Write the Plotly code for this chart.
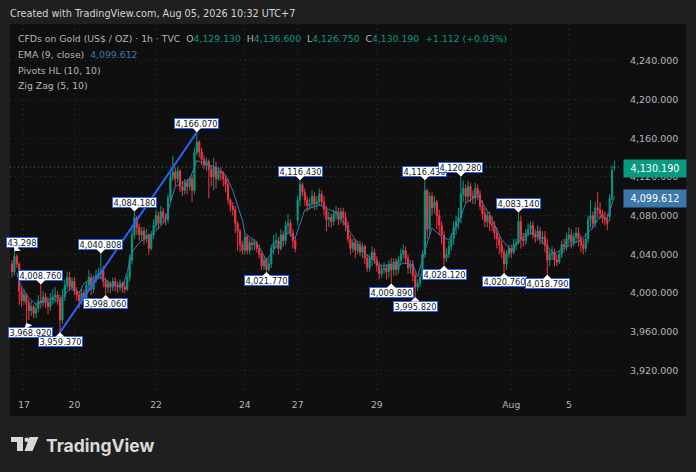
import plotly.graph_objects as go

opens = [
    4030, 4022, 4038, 4030, 4002, 3992, 3998, 3990, 3982, 3986,
    3979, 3984, 3992, 3990, 3996, 3990, 3986, 3992, 3996, 3998,
    3994, 3972, 3996, 4008, 4016, 4006, 4012, 4002, 3998, 3992,
    4000, 3994, 4008, 4016, 4004, 4014, 4018, 4020, 4024, 4012,
    4006, 4010, 4006, 4012, 4008, 4006, 4010, 4006, 4004, 4016,
    4034, 4060, 4078, 4068, 4060, 4064, 4056, 4060, 4046, 4060,
    4070, 4080, 4072, 4084, 4078, 4076, 4098, 4120, 4125, 4118,
    4126, 4110, 4106, 4114, 4110, 4118, 4106, 4145, 4156, 4146,
    4138, 4132, 4136, 4128, 4120, 4130, 4118, 4126, 4124, 4118,
    4112, 4096, 4090, 4086, 4072, 4064, 4050, 4044, 4058, 4044,
    4052, 4050, 4052, 4046, 4040, 4028, 4034, 4024, 4030, 4046,
    4052, 4054, 4046, 4060, 4054, 4070, 4072, 4062, 4054, 4075,
    4096, 4112, 4104, 4096, 4090, 4092, 4100, 4092, 4094, 4102,
    4094, 4086, 4076, 4078, 4074, 4082, 4084, 4076, 4084, 4078,
    4070, 4056, 4046, 4052, 4044, 4050, 4042, 4048, 4036, 4026,
    4036, 4042, 4034, 4028, 4020, 4024, 4026, 4022, 4030, 4024,
    4032, 4024, 4034, 4040, 4044, 4036, 4026, 4030, 4018, 4006,
    4010, 4016, 4040, 4106, 4066, 4100, 4088, 4094, 4080, 4070,
    4060, 4036, 4040, 4048, 4056, 4068, 4074, 4078, 4102, 4108,
    4100, 4110, 4100, 4098, 4108, 4102, 4090, 4082, 4074, 4080,
    4072, 4070, 4062, 4056, 4050, 4042, 4030, 4040, 4046, 4042,
    4050, 4052, 4074, 4056, 4054, 4062, 4066, 4070, 4060, 4058,
    4064, 4056, 4058, 4050, 4034, 4040, 4042, 4034, 4032, 4040,
    4050, 4048, 4056, 4060, 4052, 4058, 4062, 4056, 4050, 4046,
    4056, 4076, 4080, 4072, 4088, 4086, 4082, 4078, 4076, 4079,
    4098, 4129.13,
]
highs = [
    4034, 4043.298, 4040, 4032, 4006, 4004, 4000, 3994, 3992, 3988,
    3990, 3998, 4008.76, 4002, 4000, 3996, 4000, 4004, 4006, 4002,
    3998, 4004, 4014, 4022, 4022, 4016, 4016, 4006, 4002, 4004,
    4004, 4012, 4024, 4020, 4018, 4024, 4026, 4040.808, 4028, 4016,
    4014, 4012, 4016, 4016, 4012, 4014, 4012, 4012, 4020, 4040,
    4066, 4084.18, 4080, 4072, 4068, 4068, 4066, 4062, 4064, 4076,
    4086, 4084, 4090, 4088, 4082, 4102, 4124, 4142, 4130, 4130,
    4128, 4116, 4118, 4118, 4120, 4122, 4150, 4166.07, 4158, 4150,
    4142, 4140, 4138, 4132, 4140, 4136, 4130, 4130, 4126, 4122,
    4118, 4098, 4094, 4090, 4074, 4066, 4054, 4062, 4060, 4056,
    4056, 4056, 4054, 4050, 4042, 4038, 4036, 4036, 4050, 4060,
    4062, 4058, 4066, 4064, 4074, 4082, 4076, 4066, 4058, 4100,
    4116.43, 4114, 4108, 4100, 4098, 4106, 4104, 4100, 4108, 4106,
    4100, 4090, 4084, 4082, 4086, 4090, 4088, 4088, 4088, 4084,
    4074, 4060, 4056, 4056, 4054, 4054, 4052, 4050, 4040, 4040,
    4048, 4046, 4038, 4032, 4028, 4032, 4030, 4034, 4036, 4036,
    4036, 4038, 4046, 4050, 4048, 4040, 4034, 4034, 4022, 4014,
    4020, 4044, 4116.43, 4108, 4104, 4104, 4100, 4096, 4086, 4074,
    4064, 4046, 4054, 4062, 4074, 4080, 4088, 4120.28, 4116, 4112,
    4116, 4114, 4106, 4114, 4112, 4106, 4096, 4088, 4084, 4084,
    4080, 4074, 4068, 4060, 4054, 4046, 4044, 4050, 4050, 4056,
    4056, 4083.14, 4080, 4062, 4066, 4072, 4074, 4074, 4066, 4070,
    4068, 4064, 4064, 4056, 4044, 4048, 4046, 4040, 4044, 4054,
    4056, 4062, 4068, 4066, 4062, 4068, 4068, 4060, 4056, 4062,
    4080, 4096, 4084, 4094, 4104, 4094, 4086, 4084, 4082, 4102,
    4132, 4136.6,
]
lows = [
    4016, 4018, 4026, 3988, 3986, 3988, 3968.92, 3972, 3976, 3974,
    3974, 3980, 3984, 3986, 3984, 3978, 3982, 3988, 3990, 3988,
    3959.37, 3968, 3992, 4004, 4002, 4002, 3998, 3992, 3984, 3988,
    3986, 3990, 4004, 3998, 4000, 4010, 4014, 4014, 4006, 3998.06,
    4000, 4000, 4002, 4002, 4000, 4002, 4000, 4000, 4002, 4012,
    4030, 4056, 4060, 4054, 4054, 4050, 4052, 4040, 4044, 4056,
    4066, 4066, 4070, 4072, 4070, 4072, 4094, 4116, 4110, 4114,
    4104, 4100, 4102, 4102, 4106, 4094, 4102, 4142, 4140, 4132,
    4128, 4126, 4098, 4110, 4106, 4108, 4116, 4116, 4110, 4104,
    4092, 4084, 4080, 4062, 4044, 4042, 4040, 4040, 4040, 4040,
    4044, 4044, 4042, 4036, 4024, 4024, 4021.77, 4022, 4026, 4040,
    4046, 4040, 4044, 4048, 4050, 4062, 4058, 4046, 4042, 4070,
    4090, 4100, 4090, 4084, 4086, 4088, 4086, 4086, 4090, 4090,
    4080, 4064, 4068, 4068, 4070, 4076, 4070, 4072, 4070, 4064,
    4052, 4040, 4042, 4036, 4040, 4038, 4036, 4030, 4022, 4022,
    4028, 4030, 4022, 4014, 4016, 4020, 4014, 4016, 4009.89, 4018,
    4018, 4020, 4030, 4036, 4030, 4020, 4020, 4012, 3995.82, 4002,
    4006, 4014, 4036, 4056, 4060, 4080, 4082, 4066, 4060, 4050,
    4028.12, 4032, 4036, 4044, 4050, 4060, 4066, 4072, 4094, 4092,
    4094, 4094, 4092, 4092, 4096, 4086, 4076, 4068, 4068, 4064,
    4064, 4056, 4046, 4040, 4036, 4020.76, 4024, 4036, 4036, 4040,
    4044, 4050, 4046, 4048, 4050, 4058, 4060, 4056, 4052, 4054,
    4050, 4050, 4042, 4018.79, 4028, 4034, 4028, 4028, 4030, 4036,
    4042, 4044, 4050, 4046, 4048, 4052, 4048, 4042, 4040, 4042,
    4052, 4068, 4066, 4068, 4078, 4076, 4072, 4070, 4065, 4074,
    4096, 4126.75,
]
closes = [
    4022, 4038, 4030, 4002, 3992, 3998, 3990, 3982, 3986, 3979,
    3984, 3992, 3990, 3996, 3990, 3986, 3992, 3996, 3998, 3994,
    3972, 3996, 4008, 4016, 4006, 4012, 4002, 3998, 3992, 4000,
    3994, 4008, 4016, 4004, 4014, 4018, 4020, 4024, 4012, 4006,
    4010, 4006, 4012, 4008, 4006, 4010, 4006, 4004, 4016, 4034,
    4060, 4078, 4068, 4060, 4064, 4056, 4060, 4046, 4060, 4070,
    4080, 4072, 4084, 4078, 4076, 4098, 4120, 4125, 4118, 4126,
    4110, 4106, 4114, 4110, 4118, 4106, 4145, 4156, 4146, 4138,
    4132, 4136, 4128, 4120, 4130, 4118, 4126, 4124, 4118, 4112,
    4096, 4090, 4086, 4072, 4064, 4050, 4044, 4058, 4044, 4052,
    4050, 4052, 4046, 4040, 4028, 4034, 4024, 4030, 4046, 4052,
    4054, 4046, 4060, 4054, 4070, 4072, 4062, 4054, 4046, 4096,
    4112, 4104, 4096, 4090, 4092, 4100, 4092, 4094, 4102, 4094,
    4086, 4076, 4078, 4074, 4082, 4084, 4076, 4084, 4078, 4070,
    4056, 4046, 4052, 4044, 4050, 4042, 4048, 4036, 4026, 4036,
    4042, 4034, 4028, 4020, 4024, 4026, 4022, 4030, 4024, 4032,
    4024, 4034, 4040, 4044, 4036, 4026, 4030, 4018, 4006, 4010,
    4016, 4040, 4106, 4066, 4100, 4088, 4094, 4080, 4070, 4060,
    4036, 4040, 4048, 4056, 4068, 4074, 4078, 4102, 4108, 4100,
    4110, 4100, 4098, 4108, 4102, 4090, 4082, 4074, 4080, 4072,
    4070, 4062, 4056, 4050, 4042, 4030, 4040, 4046, 4042, 4050,
    4052, 4074, 4056, 4054, 4062, 4066, 4070, 4060, 4058, 4064,
    4056, 4058, 4050, 4034, 4040, 4042, 4034, 4032, 4040, 4050,
    4048, 4056, 4060, 4052, 4058, 4062, 4056, 4050, 4046, 4056,
    4076, 4080, 4072, 4088, 4086, 4082, 4078, 4076, 4072, 4098,
    4127, 4130.19,
]

ema_idx = [2, 3, 6, 10, 13, 17, 19, 22, 25, 28, 30, 35, 38, 42, 46, 48, 50, 53, 56, 59, 63, 64,
           66, 68, 71, 74, 77, 80, 85, 89, 92, 96, 97, 102, 106, 110, 115, 118, 122, 128, 135,
           139, 143, 147, 153, 160, 163, 167, 169, 172, 175, 179, 182, 186, 189, 194, 199, 204,
           208, 213, 217, 222, 226, 230, 237, 241, 245, 248, 251]
ema_vals = [4021, 4011, 3998, 3988, 3991, 3995, 3991, 3998, 4006, 4000, 4010, 4017, 4015, 4008,
            4006, 4022, 4042, 4052, 4057, 4062, 4072, 4077, 4093, 4110, 4114, 4117, 4137, 4134,
            4130, 4122, 4106, 4075, 4062, 4052, 4034, 4048, 4062, 4057, 4086, 4091, 4083, 4070,
            4055, 4041, 4029, 4027, 4031, 4029, 4017, 4044, 4067, 4058, 4055, 4072, 4093, 4101,
            4081, 4055, 4044, 4058, 4063, 4050, 4041, 4046, 4055, 4065, 4079, 4077, 4099.612]

pivot_idx = [1, 12, 6, 20, 37, 39, 51, 77, 106, 120, 158, 168, 172, 187, 180, 205, 223, 211]
pivot_price = [4043.298, 4008.76, 3968.92, 3959.37, 4040.808, 3998.06, 4084.18, 4166.07, 4021.77,
               4116.43, 4009.89, 3995.82, 4116.43, 4120.28, 4028.12, 4020.76, 4018.79, 4083.14]
pivot_text = ["43.298", "4,008.760", "3,968.920", "3,959.370", "4,040.808", "3,998.060", "4,084.180",
              "4,166.070", "4,021.770", "4,116.430", "4,009.890", "3,995.820", "4,116.430", "4,120.280",
              "4,028.120", "4,020.760", "4,018.790", "4,083.140"]
pivot_is_high = [True, True, False, False, True, False, True, True, False,
                 True, False, False, True, True, False, False, False, True]
pivot_ax = [8, 0, 4, 0, 0, 0, 0, 0, 0, 0, 0, 0, 0, 0, 0, 0, 0, 0]

zigzag_idx = [20, 77]
zigzag_price = [3959.37, 4166.07]

price_ticks = [3920, 3960, 4000, 4040, 4080, 4120, 4160, 4200, 4240]
day_ticks = [5, 26, 60, 97, 119, 152, 208, 232]
day_labels = ["17", "20", "22", "24", "27", "29", "Aug", "5"]

UP = "#089981"
DOWN = "#f23645"
BLUE = "#2962ff"
EMA = "#3d78ad"
FONT = "DejaVu Sans"
W, H = 696, 472
L, R, T, B = 10, 620, 24, 392  # plot area in page pixels


def px(x):
    return (x - L) / (R - L)


def py(y):
    return 1 - (y - T) / (B - T)


fig = go.Figure()
fig.add_trace(go.Candlestick(
    x=list(range(len(closes))), open=opens, high=highs, low=lows, close=closes,
    increasing=dict(line=dict(color=UP, width=1), fillcolor=UP),
    decreasing=dict(line=dict(color=DOWN, width=1), fillcolor=DOWN),
    whiskerwidth=0, showlegend=False,
))
fig.add_trace(go.Scatter(x=ema_idx, y=ema_vals, mode="lines", line=dict(color=EMA, width=1),
                         showlegend=False))
fig.add_trace(go.Scatter(x=zigzag_idx, y=zigzag_price, mode="lines", line=dict(color=BLUE, width=2),
                         showlegend=False))

annotations = []
for i, price, label, is_high, ax in zip(pivot_idx, pivot_price, pivot_text, pivot_is_high, pivot_ax):
    annotations.append(dict(
        x=i, y=price, xref="x", yref="y", text=label, showarrow=True,
        ax=ax, ay=-9 if is_high else 9,
        arrowcolor="white", arrowhead=1, arrowwidth=1.5, arrowsize=1, standoff=0,
        bgcolor="white", bordercolor=BLUE, borderwidth=1, borderpad=0,
        width=30 if label == "43.298" else 43, height=9,
        font=dict(family=FONT, size=8.3, color="#131722"),
    ))


# header, legend and price tags sit at fixed page positions
def page_text(x, y, text, size=9.3, color="#b2b5be", **kw):
    annotations.append(dict(x=px(x), y=py(y), xref="paper", yref="paper", text=text, showarrow=False,
                            xanchor="left", yanchor="middle", align="left",
                            font=dict(family=FONT, size=size, color=color), **kw))


g = lambda s: f'<span style="color:{UP}">{s}</span>'
page_text(8, 14, "Created with TradingView.com, Aug 05, 2026 10:32 UTC+7", size=9.7, color="#d1d4dc")
page_text(16, 38, "CFDs on Gold (US$ / OZ) · 1h · TVC  O" + g("4,129.130") + "  H" + g("4,136.600")
          + "  L" + g("4,126.750") + "  C" + g("4,130.190") + "  " + g("+1.112 (+0.03%)"))
page_text(16, 54, f'EMA (9, close)  <span style="color:{EMA}">4,099.612</span>')
page_text(16, 70, "Pivots HL (10, 10)")
page_text(16, 86, "Zig Zag (5, 10)")
page_text(623, 168.5, "4,130.190", size=9.6, color="white", bgcolor=UP, width=60, height=15)
annotations[-1]["align"] = "center"
page_text(623, 198, "4,099.612", size=9.6, color="white", bgcolor=EMA, width=60, height=15)
annotations[-1]["align"] = "center"
page_text(44, 445, "<b>TradingView</b>", size=17.5, color="#d9d9d9")
annotations[-1]["font"]["family"] = "Inter"

shapes = [
    dict(type="rect", xref="paper", yref="paper", x0=px(10), x1=px(686), y0=py(24), y1=py(416),
         fillcolor="#0f0f0f", line=dict(width=0), layer="below"),
    dict(type="line", xref="paper", yref="y", x0=0, x1=1, y0=closes[-1], y1=closes[-1],
         line=dict(color=UP, width=1, dash="1px,3px")),
    # logo
    dict(type="path", xref="paper", yref="paper", fillcolor="#d9d9d9", line=dict(width=0),
         path=f"M {px(11)} {py(437)} L {px(23)} {py(437)} L {px(23)} {py(451)} L {px(17)} {py(451)}"
              f" L {px(17)} {py(442)} L {px(11)} {py(442)} Z"),
    dict(type="circle", xref="paper", yref="paper", fillcolor="#d9d9d9", line=dict(width=0),
         x0=px(24.5), x1=px(29), y0=py(442), y1=py(437.5)),
    dict(type="path", xref="paper", yref="paper", fillcolor="#d9d9d9", line=dict(width=0),
         path=f"M {px(29.5)} {py(437)} L {px(38.5)} {py(437)} L {px(32.5)} {py(451)} L {px(24.5)} {py(451)} Z"),
]

fig.update_layout(
    width=W, height=H,
    margin=dict(l=L, r=W - R, t=T, b=H - B),
    paper_bgcolor="#1f1f1f", plot_bgcolor="#0f0f0f",
    showlegend=False, annotations=annotations, shapes=shapes,
    xaxis=dict(type="linear", range=[-0.83, 253.3], rangeslider=dict(visible=False),
               tickmode="array", tickvals=day_ticks, ticktext=day_labels,
               showgrid=True, gridcolor="#2b2b2b", griddash="1px,4px", gridwidth=1,
               zeroline=False, showline=False, ticks="", ticklabelstandoff=6,
               tickfont=dict(family=FONT, size=9.2, color="#b2b5be")),
    yaxis=dict(side="right", range=[3897.7, 4278], tickmode="array", tickvals=price_ticks,
               ticktext=[f"{v:,.3f}" for v in price_ticks],
               showgrid=True, gridcolor="#2b2b2b", griddash="1px,4px", gridwidth=1,
               zeroline=False, showline=False, ticks="", ticklabelstandoff=9,
               tickfont=dict(family=FONT, size=9.5, color="#b2b5be")),
)

fig.write_html("out.html", config=dict(displayModeBar=False),
               post_script="document.body.style.margin='0';")
